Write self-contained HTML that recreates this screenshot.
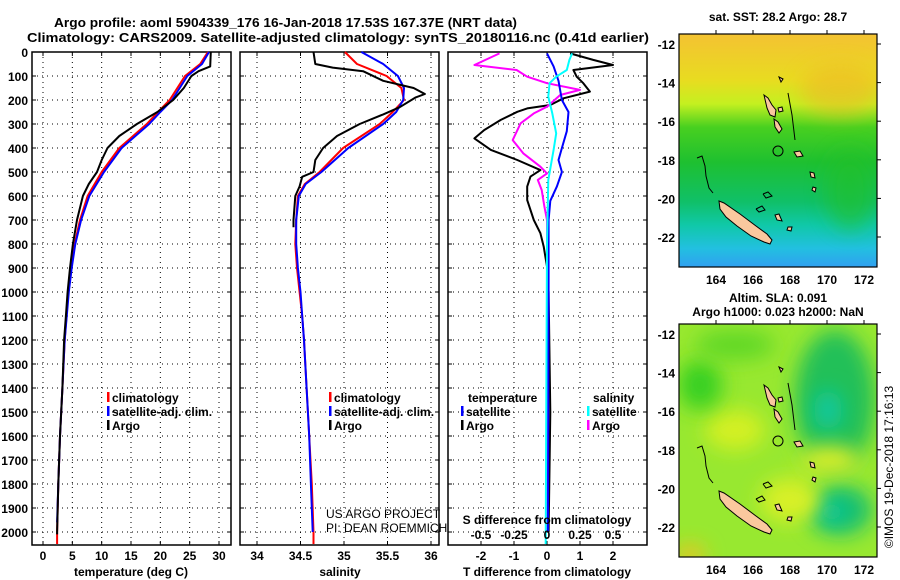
<!DOCTYPE html>
<html><head><meta charset="utf-8"><style>
html,body{margin:0;padding:0;background:#fff;}
svg{display:block;font-family:"Liberation Sans",sans-serif;}
.b{font-weight:bold;font-size:13px;}
.t{font-size:12px;font-weight:bold;}
</style></head><body>
<svg id="c" width="900" height="580" viewBox="0 0 900 580">
<defs>
<linearGradient id="sst" x1="0" y1="0" x2="0" y2="1">
<stop offset="0" stop-color="#f4c232"/><stop offset="0.2" stop-color="#e8dc20"/><stop offset="0.3" stop-color="#c4f020"/>
<stop offset="0.4" stop-color="#48d020"/><stop offset="0.55" stop-color="#1ec030"/><stop offset="0.72" stop-color="#10c068"/>
<stop offset="0.82" stop-color="#10c8a8"/><stop offset="0.92" stop-color="#22c0e0"/><stop offset="1" stop-color="#30a0f0"/>
</linearGradient>
<filter id="bl" x="-100%" y="-100%" width="300%" height="300%"><feGaussianBlur stdDeviation="10"/></filter>
<clipPath id="m2c"><rect x="679" y="324" width="198" height="233"/></clipPath>
<clipPath id="m1c"><rect x="679" y="34" width="198" height="233"/></clipPath>
</defs>
<text class="b" x="54" y="27" textLength="463" lengthAdjust="spacingAndGlyphs">Argo profile: aoml 5904339_176 16-Jan-2018 17.53S 167.37E (NRT data)</text>
<text class="b" x="27" y="42" textLength="622" lengthAdjust="spacingAndGlyphs">Climatology: CARS2009. Satellite-adjusted climatology: synTS_20180116.nc (0.41d earlier)</text>
<g id="g"></g>
</svg>
<script>
// ---- data ----
const depthTicks=[0,100,200,300,400,500,600,700,800,900,1000,1100,1200,1300,1400,1500,1600,1700,1800,1900,2000];
const tempTicks=[0,5,10,15,20,25,30];
const salTicks=[34,34.5,35,35.5,36];
const tdTicks=[-2,-1,0,1,2];
const sdTicks=[-0.5,-0.25,0,0.25,0.5];
const sdTickLabels=["-0.5","-0.25","0","0.25","0.5"];
const tArgoD=[0,60,80,100,150,200,250,300,350,400,450,500,550,600,700,800,900,1000,1100,1200,1400,1600,1800,2000,2010];
const tArgoV=[28.6,28.5,26.5,25.3,24.0,22.2,19.5,16.0,13.0,11.0,10.0,9.2,7.8,6.8,5.8,5.1,4.6,4.2,3.9,3.6,3.3,2.9,2.6,2.4,2.4];
const tClimD=[0,50,100,200,250,300,400,500,600,700,800,900,1000,1200,1400,1600,1800,2000,2050];
const tClimV=[28.1,26.8,24.2,21.6,19.6,17.7,13.0,10.0,7.6,6.3,5.4,4.8,4.3,3.7,3.3,2.9,2.6,2.4,2.4];
const tSatD=[0,50,100,200,250,300,400,500,600,700,800,900,1000,1200,1400,1600,1800,1960];
const tSatV=[28.3,27.1,24.6,22.0,20.0,18.1,13.4,10.4,7.9,6.5,5.5,4.9,4.4,3.7,3.3,2.9,2.6,2.4];
const sArgoD=[0,50,65,80,120,150,175,190,230,260,300,350,400,450,500,520,560,600,700,730];
const sArgoV=[34.65,34.67,34.87,35.22,35.45,35.8,35.93,35.82,35.64,35.45,35.18,34.92,34.76,34.67,34.65,34.52,34.49,34.44,34.42,34.42];
const sClimD=[0,50,100,150,200,250,300,400,500,550,600,700,800,900,1000,1100,1200,1400,1600,1800,2000,2050];
const sClimV=[35.01,35.15,35.49,35.66,35.69,35.56,35.41,34.99,34.72,34.55,34.47,34.45,34.44,34.46,34.49,34.52,34.54,34.57,34.6,34.63,34.65,34.65];
const sSatD=[0,50,100,150,200,250,300,400,500,550,600,700,800,900,1000,1100,1200,1400,1600,1800,2000];
const sSatV=[35.2,35.45,35.62,35.69,35.68,35.6,35.45,35.05,34.74,34.56,34.48,34.45,34.45,34.47,34.5,34.52,34.54,34.57,34.6,34.62,34.64];
const dTArgoD=[6,33,54,75,103,130,165,193,221,235,249,283,325,360,408,450,492,519,561,617,700,755,811,894,1000,1500,2000];
const dTArgoV=[0.7,1.4,2.0,0.8,0.9,1.1,1.3,0.5,0.1,-0.6,-0.9,-1.4,-1.9,-2.2,-1.7,-0.9,-0.2,-0.5,-0.6,-0.6,-0.4,-0.2,-0.1,0,0.05,0.1,0.05];
const dTSatD=[6,60,120,200,250,330,400,450,500,560,620,700,1000,2000];
const dTSatV=[0.0,0.2,0.35,0.45,0.65,0.6,0.45,0.35,0.45,0.3,0.1,0.05,0.05,0.03];
const dSArgoD=[6,54,75,103,130,158,179,228,256,297,367,422,478,506,533,575,644,700,1000,2000];
const dSArgoV=[-0.36,-0.55,-0.23,-0.15,0,0.25,0.1,0,-0.1,-0.2,-0.26,-0.18,-0.05,0,-0.07,-0.04,-0.02,0,0,0];
const dSSatD=[6,33,75,103,130,186,256,339,408,533,800,2050];
const dSSatV=[0.19,0.17,0.15,0.07,0.02,0.01,0.04,0.07,0.05,0.01,0,-0.01];
const latTicks=[-12,-14,-16,-18,-20,-22];
const lonTicks=[164,166,168,170,172];

// ---- helpers ----
const NS='http://www.w3.org/2000/svg';
const G=document.getElementById('g');
function mk(tag,attrs,parent){const e=document.createElementNS(NS,tag);for(const k in attrs)e.setAttribute(k,attrs[k]);(parent||G).appendChild(e);return e;}
const Y0=52,YS=0.24,PB=545;
const yD=d=>Y0+d*YS;
const xT=v=>43+v*5.8667;
const xS=v=>257+(v-34)*87;
const xDT=v=>547+v*33;
const xDS=v=>547+v*132;

function panel(x1,x2,name){
  const r=mk('rect',{x:x1,y:Y0,width:x2-x1,height:PB-Y0,fill:'none',stroke:'#000','stroke-width':1.5});
  
  
  depthTicks.forEach(d=>{
    const l=mk('line',{x1:x1,x2:x2,y1:yD(d),y2:yD(d),stroke:'#000','stroke-width':1,'stroke-dasharray':'1,4'});
    
    
    mk('line',{x1:x1,x2:x1+4,y1:yD(d),y2:yD(d),stroke:'#000'});
    mk('line',{x1:x2-4,x2:x2,y1:yD(d),y2:yD(d),stroke:'#000'});
  });
}
function vgrid(xs,x1,x2){xs.forEach(x=>{
  const l=mk('line',{x1:x,x2:x,y1:Y0,y2:PB,stroke:'#000','stroke-width':1,'stroke-dasharray':'1,4'});
  
  
  mk('line',{x1:x,x2:x,y1:Y0,y2:Y0+4,stroke:'#000'});mk('line',{x1:x,x2:x,y1:PB-4,y2:PB,stroke:'#000'});
});}
function series(D,V,fx,color,name){
  const pts=D.map((d,i)=>fx(V[i]).toFixed(1)+','+yD(d).toFixed(1)).join(' ');
  const p=mk('polyline',{points:pts,fill:'none',stroke:color,'stroke-width':2,'stroke-linejoin':'round'});
  
  
}
function txt(x,y,s,attrs,name){const t=mk('text',Object.assign({x:x,y:y},attrs||{}));t.textContent=s;
  
  return t;}

// panel 1
panel(32,231,'temperature-panel');
vgrid(tempTicks.map(xT),32,231);
depthTicks.forEach(d=>txt(28,yD(d)+5,String(d),{'class':'t','text-anchor':'end'},'depth-tick-label'));
tempTicks.forEach(v=>txt(xT(v),560,String(v),{'class':'t','text-anchor':'middle'},'temperature-tick-label'));
txt(131,576,'temperature (deg C)',{'class':'t','text-anchor':'middle'},'temperature-axis-title');
series(tClimD,tClimV,xT,'#ff0000','temperature-climatology-line');
series(tSatD,tSatV,xT,'#0000ff','temperature-satellite-line');
series(tArgoD,tArgoV,xT,'#000000','temperature-argo-line');

// panel 2
panel(240,439,'salinity-panel');
vgrid(salTicks.map(xS),240,439);
salTicks.forEach(v=>txt(xS(v),560,String(v),{'class':'t','text-anchor':'middle'},'salinity-tick-label'));
txt(340,576,'salinity',{'class':'t','text-anchor':'middle'},'salinity-axis-title');
series(sClimD,sClimV,xS,'#ff0000','salinity-climatology-line');
series(sSatD,sSatV,xS,'#0000ff','salinity-satellite-line');
series(sArgoD,sArgoV,xS,'#000000','salinity-argo-line');

// panel 3
panel(448,647,'difference-panel');
vgrid(tdTicks.map(xDT),448,647);
series(dTArgoD,dTArgoV,xDT,'#000000','temperature-argo-difference-line');
series(dSArgoD,dSArgoV,xDS,'#ff00ff','salinity-argo-difference-line');
series(dTSatD,dTSatV,xDT,'#0000ff','temperature-satellite-difference-line');
series(dSSatD,dSSatV,xDS,'#00ffff','salinity-satellite-difference-line');
tdTicks.forEach(v=>txt(xDT(v),560,String(v),{'class':'t','text-anchor':'middle'},'t-difference-tick-label'));
sdTicks.forEach((v,i)=>txt(xDS(v),539,sdTickLabels[i],{'class':'t','text-anchor':'middle'},'s-difference-tick-label'));
txt(547,524,'S difference from climatology',{'class':'t','text-anchor':'middle'},'s-difference-axis-title');
txt(547,576,'T difference from climatology',{'class':'t','text-anchor':'middle'},'t-difference-axis-title');

// legends
function leg(x,y,color,label,name){
  mk('rect',{x:x,y:y-10,width:2.5,height:10,fill:color});
  txt(x+5,y,label,{'class':'t'},name);
}
[[113,'#ff0000','climatology'],[113,'#0000ff','satellite-adj. clim.'],[113,'#000','Argo']].forEach((l,i)=>leg(107,402+i*14,l[1],l[2],'temperature-legend-entry'));
[[335,'#ff0000','climatology'],[335,'#0000ff','satellite-adj. clim.'],[335,'#000','Argo']].forEach((l,i)=>leg(329,402+i*14,l[1],l[2],'salinity-legend-entry'));
txt(468,402,'temperature',{'class':'t'},'difference-legend-temperature-header');
txt(593,402,'salinity',{'class':'t'},'difference-legend-salinity-header');
leg(461,416,'#0000ff','satellite','difference-legend-entry');
leg(461,430,'#000','Argo','difference-legend-entry');
leg(587,416,'#00ffff','satellite','difference-legend-entry');
leg(587,430,'#ff00ff','Argo','difference-legend-entry');
txt(326,518,'US ARGO PROJECT',{'font-size':'12px'},'project-credit');
txt(326,532,'PI: DEAN ROEMMICH',{'font-size':'12px'},'pi-credit');

// ---- maps ----
const land=[
 [[719,201],[724,203],[740,214],[756,226],[767,234],[772,240],[770,244],[764,242],[751,236],[737,226],[726,217],[720,209]],
 [[764,95],[768,98],[772,105],[776,110],[775,117],[770,115],[767,108]],
 [[774,119],[778,122],[782,129],[779,133],[775,127]],
 [[794,152],[800,151],[803,156],[797,157]],
 [[778,108],[782,107],[783,111],[779,112]],
 [[810,172],[814,173],[815,178],[811,177]],
 [[813,187],[816,188],[815,192],[812,190]],
 [[775,215],[779,214],[782,221],[777,220]],
 [[788,227],[792,227],[791,231],[787,230]],
 [[779,77],[783,79],[781,82]]
];
const reefs=[
 [[697,158],[702,156],[705,166],[706,176],[709,188],[713,193]],
 [[763,194],[768,192],[772,196],[766,198],[763,194]],
 [[756,209],[762,206],[765,210],[759,212],[756,209]],
 [[788,93],[792,115],[795,140]]
];
function drawMap(top,base,name){
  const g=mk('g',{'clip-path':'url(#'+(top<100?'m1c':'m2c')+')'});
  
  
  base(g);
  const dy=top-34;
  reefs.forEach(r=>mk('polyline',{points:r.map(p=>p[0]+','+(p[1]+dy)).join(' '),fill:'none',stroke:'#000','stroke-width':1},g));
  land.forEach(r=>{const p=mk('polygon',{points:r.map(p=>p[0]+','+(p[1]+dy)).join(' '),fill:'#fac89e',stroke:'#000','stroke-width':1},g);
    
    });
  const c=mk('circle',{cx:778,cy:151+dy,r:5,fill:'none',stroke:'#000','stroke-width':1},g);
  
  
  mk('rect',{x:679,y:top,width:198,height:233,fill:'none',stroke:'#000','stroke-width':1.2});
  const yL=lat=>top+10+(-12-lat)*19.3;
  const xL=lon=>716+(lon-164)*18.5;
  latTicks.forEach(l=>{txt(675,yL(l)+5,String(l),{'class':'t','text-anchor':'end'},'latitude-tick-label');
    mk('line',{x1:877,x2:881,y1:yL(l),y2:yL(l),stroke:'#000'});});
  lonTicks.forEach(l=>{txt(xL(l),top+250,String(l),{'class':'t','text-anchor':'middle'},'longitude-tick-label');
    mk('line',{x1:xL(l),x2:xL(l),y1:top-4,y2:top,stroke:'#000'});});
}
drawMap(34,g=>{mk('rect',{x:679,y:34,width:198,height:233,fill:'url(#sst)'},g);
  mk('ellipse',{cx:840,cy:90,rx:40,ry:25,fill:'#f0b828',opacity:0.6,filter:'url(#bl)'},g);
  mk('ellipse',{cx:850,cy:190,rx:25,ry:40,fill:'#20c028',opacity:0.6,filter:'url(#bl)'},g);
},'sst-map');
drawMap(324,g=>{mk('rect',{x:679,y:324,width:198,height:233,fill:'#98e830'},g);
  mk('ellipse',{cx:835,cy:400,rx:40,ry:70,fill:'#20c058',filter:'url(#bl)'},g);
  mk('ellipse',{cx:828,cy:410,rx:14,ry:20,fill:'#10c8a0',filter:'url(#bl)'},g);
  mk('ellipse',{cx:840,cy:510,rx:32,ry:25,fill:'#18c070',filter:'url(#bl)'},g);
  mk('ellipse',{cx:832,cy:512,rx:12,ry:10,fill:'#10c8a8',filter:'url(#bl)'},g);
  mk('ellipse',{cx:735,cy:430,rx:30,ry:20,fill:'#d4f020',filter:'url(#bl)'},g);
  mk('ellipse',{cx:790,cy:500,rx:30,ry:22,fill:'#d8f028',filter:'url(#bl)'},g);
  mk('ellipse',{cx:830,cy:460,rx:30,ry:14,fill:'#e0f028',filter:'url(#bl)'},g);
  mk('ellipse',{cx:700,cy:385,rx:22,ry:25,fill:'#38d020',filter:'url(#bl)'},g);
  mk('ellipse',{cx:735,cy:345,rx:40,ry:15,fill:'#60d828',filter:'url(#bl)'},g);
  mk('ellipse',{cx:690,cy:555,rx:15,ry:10,fill:'#f0c020',filter:'url(#bl)'},g);
},'sla-map');
txt(778,21,'sat. SST: 28.2 Argo: 28.7',{'class':'t','text-anchor':'middle'},'sst-map-title');
txt(778,302,'Altim. SLA: 0.091',{'class':'t','text-anchor':'middle'},'sla-map-title');
txt(778,316,'Argo h1000: 0.023 h2000: NaN',{'class':'t','text-anchor':'middle'},'sla-map-subtitle');
txt(0,0,'©IMOS 19-Dec-2018 17:16:13',{'font-size':'12px','text-anchor':'middle',transform:'translate(893,467) rotate(-90)'},'timestamp-credit');
</script>
</body></html>
